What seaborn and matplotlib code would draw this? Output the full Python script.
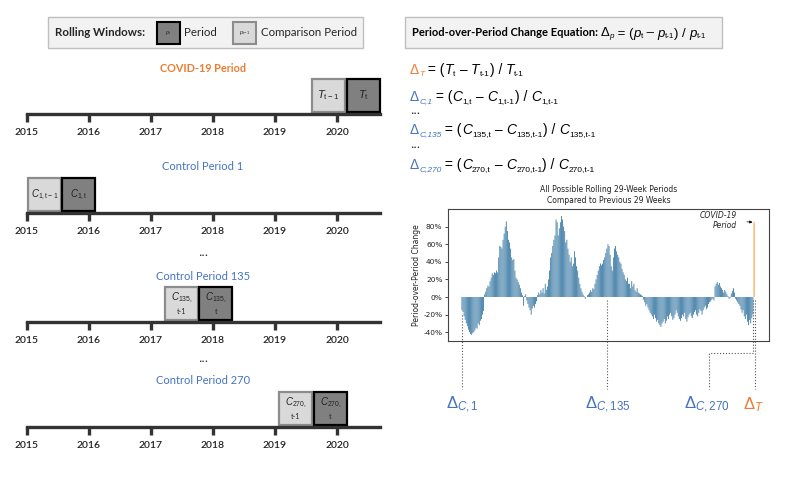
import matplotlib.pyplot as plt
import matplotlib.patches as mpatches
from matplotlib.ticker import PercentFormatter
import seaborn as sns

sns.set_style("white")
plt.rcParams['font.family'] = ['Lato', 'DejaVu Sans']
plt.rcParams['axes.unicode_minus'] = False
plt.rcParams['mathtext.fontset'] = 'custom'
plt.rcParams['mathtext.rm'] = 'Liberation Sans'
plt.rcParams['mathtext.it'] = 'Liberation Sans:italic'
plt.rcParams['mathtext.bf'] = 'Liberation Sans:bold'

ORANGE = '#ed7d31'
BLUE = '#4472c4'

# ---- data ----
years = [2015, 2016, 2017, 2018, 2019, 2020]
timeline_titles = ['COVID-19 Period', 'Control Period 1', 'Control Period 135', 'Control Period 270']
title_colors = [ORANGE, BLUE, BLUE, BLUE]
comparison_start = [2019.60, 2015.02, 2017.23, 2019.07]
period_start = [2020.16, 2015.57, 2017.78, 2019.63]
window_years = 29 / 52.18
comparison_labels = [(r'$T_{\rm t-1}$', None), (r'$C_{1,\rm t-1}$', None),
                     (r'$C_{135,}$', 't-1'), (r'$C_{270,}$', 't-1')]
period_labels = [(r'$T_{\rm t}$', None), (r'$C_{1,\rm t}$', None),
                 (r'$C_{135,}$', 't'), (r'$C_{270,}$', 't')]

# equation rows: delta subscript, symbol, symbol subscript prefix
eq_delta = ['T', 'C,1', 'C,135', 'C,270']
eq_symbol = ['T', 'C', 'C', 'C']
eq_prefix = ['', '1,', '135,', '270,']
eq_colors = [ORANGE, BLUE, BLUE, BLUE]

# period-over-period change (%), 270 control periods then the COVID-19 period
control_change = [
    -15, -17, -22, -26, -30, -33, -37, -40, -42, -43, -41, -40, -38, -35, -36, -30, -32, -27, -25, -20, -16,
    3, 6, 10, 13, 12, 18, 22, 27, 25, 28, 27, 30, 28, 45, 58, 57, 55, 65, 72, 80, 86,
    75, 65, 62, 55, 45, 42, 43, 30, 22, 20, 17, 14, 10,
    5, 2,
    -10, 1, 3,
    -4, -8, -12, -15, -20, -13, -10, -12, -8, -5,
    2, 5, 3, 8, 5, 10, 4, 15, 8, 12,
    20, 30, 45, 50, 58, 65, 70,
    88, 85, 70, 78, 85, 92, 88, 80, 75,
    62, 65, 55, 48, 40, 45, 35, 38, 52, 45, 35, 30, 22, 15, 10, 6, 3,
    1, -2, 0, 2,
    3, 5, 8, 6, 10, 9, 15, 20, 25, 30, 35, 38, 36, 38, 42, 45, 50, 55, 60, 58, 48,
    35, 30, 45, 55, 58, 52, 48, 45, 40, 38, 32, 28, 25, 20, 18, 22, 15,
    15, 10, 18, 12, 15, 8, 6, 10, 5, 4, 3, 2, 1,
    -3, -6, -10, -8, -12, -15, -18, -20, -22, -25,
    -20, -24, -28, -26, -30, -32, -34, -30, -28, -25,
    -30, -27, -22, -25, -20, -18, -22, -26, -24, -20,
    -15, -18, -22, -25, -27, -24, -20, -22, -18, -25,
    -28, -23, -20, -18, -22, -24, -20, -17, -15, -20,
    -22, -18, -14, -16, -20, -15, -12, -10, -14, -12,
    -8, -6, -5, -3, -2,
    -4, 12, 15, 17, 14, 16, 12, 10, 8, 5, 8, 6, 3, 1, -2, -1, 4, 7, 10, 5,
    -2, -4, -6, -8, -10, -14, -18, -15, -22, -25, -20, -28, -32, -26, -30, -24, -20,
]
covid_change = 85
marked = {'C,1': 0, 'C,135': 134, 'C,270': 269, 'T': 270}

changes = [v / 100 for v in control_change + [covid_change]]
idx = list(range(len(changes)))


def px_rect(x0, y0, x1, y1):
    return [x0 / 800, 1 - y1 / 480, (x1 - x0) / 800, (y1 - y0) / 480]


fig = plt.figure(figsize=(8, 4.8), dpi=100)
bg = fig.add_axes([0, 0, 1, 1])
bg.set_xlim(0, 800)
bg.set_ylim(480, 0)
bg.axis('off')
renderer = fig.canvas.get_renderer()


def chain(x, y, parts, **kw):
    # consecutive text pieces on one baseline; part = (text, color, size, drop, style)
    for s, color, size, drop, style in parts:
        t = bg.text(x, y + drop, s, color=color, fontsize=size, style=style, va='baseline', **kw)
        bb = t.get_window_extent(renderer)
        x = bg.transData.inverted().transform((bb.x1, bb.y0))[0]
    return x


def change_eq(dsub, dcolor, sym, pre, big, small, drop):
    return [('Δ', dcolor, big, 0, 'normal'), (dsub, dcolor, small, drop, 'italic'),
            (' = (', 'black', big, 0, 'normal'),
            (sym, 'black', big, 0, 'italic'), (pre + 't', 'black', small, drop, 'normal'),
            (' – ', 'black', big, 0, 'normal'),
            (sym, 'black', big, 0, 'italic'), (pre + 't-1', 'black', small, drop, 'normal'),
            (') / ', 'black', big, 0, 'normal'),
            (sym, 'black', big, 0, 'italic'), (pre + 't-1', 'black', small, drop, 'normal')]


# ---- legend box ----
bg.add_patch(mpatches.Rectangle((48, 17), 315, 31, fc='#f2f2f2', ec='#bfbfbf', lw=1))
bg.text(55, 33, 'Rolling Windows:', fontsize=8.3, fontweight='bold', va='center')
bg.add_patch(mpatches.Rectangle((157, 22), 23, 22, fc='#808080', ec='black', lw=1.5))
bg.text(168.5, 33, r'$p_{\rm t}$', fontsize=4, ha='center', va='center')
bg.text(184, 33, 'Period', fontsize=8.3, va='center')
bg.add_patch(mpatches.Rectangle((233, 22), 23, 22, fc='#d9d9d9', ec='#8c8c8c', lw=1.5))
bg.text(244.5, 33, r'$p_{\rm t-1}$', fontsize=4, ha='center', va='center')
bg.text(261, 33, 'Comparison Period', fontsize=8.3, va='center')

# ---- timelines ----
line_y = [114, 213, 322, 427]
BOX_H = 33
for k in range(4):
    ly = line_y[k]
    ax = fig.add_axes(px_rect(20, ly - 42, 382, ly + 2))
    ax.set_xlim(2015 - 7 / 62, 2015 + 362 / 62 - 7 / 62)
    ax.set_ylim(-2, 42)
    ax.patch.set_visible(False)
    for s in ['top', 'left', 'right']:
        ax.spines[s].set_visible(False)
    ax.spines['bottom'].set_position(('data', 0))
    ax.spines['bottom'].set_bounds(2015, 2020.7)
    ax.spines['bottom'].set_color('#333333')
    ax.spines['bottom'].set_linewidth(2.4)
    ax.set_yticks([])
    ax.set_xticks(years)
    ax.set_xticklabels([str(y) for y in years])
    ax.tick_params(axis='x', bottom=True, direction='out', length=6, width=2.4,
                   color='#333333', labelsize=7.5, pad=4, labelcolor='#222222')
    for lab in ax.get_xticklabels():
        lab.set_fontweight('semibold')
    for start, lab, fc, ec in [(comparison_start[k], comparison_labels[k], '#d9d9d9', '#8c8c8c'),
                               (period_start[k], period_labels[k], '#808080', 'black')]:
        w = window_years - 0.03
        ax.add_patch(mpatches.Rectangle((start, 2), w, BOX_H, fc=fc, ec=ec, lw=1.6, clip_on=False))
        main, sub = lab
        if sub is None:
            ax.text(start + w / 2, 2 + BOX_H / 2, main, fontsize=8 if k == 0 else 7,
                    ha='center', va='center', color='#222222')
        else:
            ax.text(start + w / 2, 2 + BOX_H * 0.66, main, fontsize=7, ha='center', va='center', color='#222222')
            ax.text(start + w / 2, 2 + BOX_H * 0.25, sub, fontsize=5, ha='center', va='center', color='#222222')
    bg.text(203, ly - 46, timeline_titles[k], color=title_colors[k],
            fontsize=7.8 if k == 0 else 8,
            fontweight='bold' if k == 0 else 'normal', ha='center', va='center')
for dy in [255, 362]:
    bg.text(203, dy, '•••', fontsize=4, ha='center', va='center', family='DejaVu Sans', color='#222222')

# ---- equations ----
bg.add_patch(mpatches.Rectangle((405, 17), 317, 31, fc='#f2f2f2', ec='#bfbfbf', lw=1))
x_next = chain(412, 36.5, [('Period-over-Period Change Equation: ', 'black', 8, 0, 'normal')],
               fontweight='bold')
chain(x_next, 36.5, change_eq('p', 'black', 'p', '', 9.5, 5.8, 2), family='Liberation Sans')

eq_y = [74, 101, 134, 169]
for k in range(4):
    chain(410, eq_y[k], change_eq(eq_delta[k], eq_colors[k], eq_symbol[k], eq_prefix[k], 10, 6, 2.5),
          family='Liberation Sans')
for y in [113, 148]:
    bg.text(410, y, '•••', fontsize=4, va='center', family='DejaVu Sans', color='#222222')

# ---- bar chart ----
ax = fig.add_axes(px_rect(448, 209, 769, 341))
sns.barplot(x=idx, y=changes, color='#1f77b4', width=0.75, linewidth=0, ax=ax)
for p in ax.patches:
    p.set_snap(False)
ax.patches[marked['T']].set_facecolor('#ff9a3c')
ax.patches[marked['T']].set_width(1.0)
ax.set_xlim(-12.9, 283.9)
ax.set_ylim(-0.5, 1.0)
ax.set_xticks([])
ax.set_yticks([-0.4, -0.2, 0, 0.2, 0.4, 0.6, 0.8])
ax.yaxis.set_major_formatter(PercentFormatter(1.0, decimals=0))
ax.tick_params(axis='y', left=True, length=2.5, width=0.6, labelsize=5.3, pad=1.5, labelcolor='#222222')
for s in ax.spines.values():
    s.set_linewidth(0.8)
    s.set_color('#444444')
ax.set_ylabel('Period-over-Period Change', fontsize=5.5, labelpad=2, color='#222222')
ax.set_title('All Possible Rolling 29-Week Periods\nCompared to Previous 29 Weeks',
             fontsize=5.5, pad=4, linespacing=1.35, family='DejaVu Sans', color='#222222')
ax.yaxis.label.set_family('DejaVu Sans')
for lab in ax.get_yticklabels():
    lab.set_family('DejaVu Sans')

ax.annotate('COVID-19\nPeriod', xy=(marked['T'], 0.85), xytext=(254, 0.87),
            ha='right', va='center', fontsize=5.5, style='italic', family='DejaVu Sans',
            arrowprops=dict(arrowstyle='-|>', lw=0.5, color='black', shrinkA=5, shrinkB=1, mutation_scale=4))

# dotted connectors and labels
dot = dict(ls=':', lw=0.8, color='#555555', clip_on=False)
i1 = marked['C,1']
ax.plot([i1, i1], [changes[i1] - 0.05, -1.05], **dot)
i2 = marked['C,135']
ax.plot([i2, i2], [-0.03, -1.05], **dot)
i3 = marked['C,270']
ax.plot([i3, i3, 228.5, 228.5], [-0.03, -0.64, -0.64, -1.05], **dot)
i4 = marked['T']
ax.plot([i4 + 0.8, i4 + 0.8], [-0.03, -1.05], **dot)

for x, s, c in [(i1, r'$\Delta_{\mathit{C,1}}$', BLUE), (i2 + 1, r'$\Delta_{\mathit{C,135}}$', BLUE),
                (226.5, r'$\Delta_{\mathit{C,270}}$', BLUE), (i4 - 0.5, r'$\Delta_{\mathit{T}}$', ORANGE)]:
    ax.text(x, -1.22, s, color=c, fontsize=12, ha='center', va='center', clip_on=False)

fig.savefig('out.png', dpi=100)
